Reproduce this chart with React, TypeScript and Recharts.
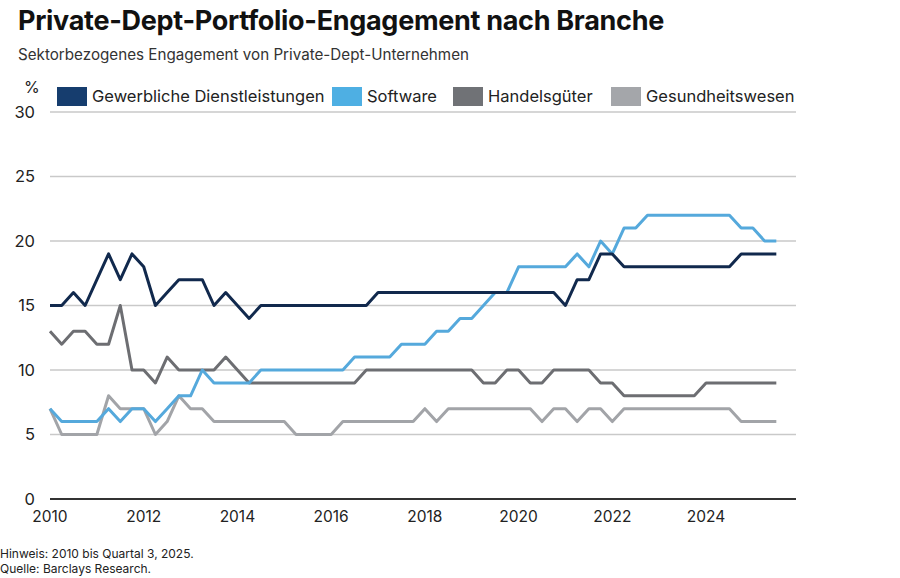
import React from "react";
import { LineChart, Line, XAxis, YAxis, CartesianGrid, ReferenceLine } from "recharts";

// quarterly, 2010 Q1 .. 2025 Q3
const START_YEAR = 2010;
const N_QUARTERS = 63;

const gewerbliche = [
  15, 15, 16, 15, 17, 19, 17, 19, 18, 15, 16, 17, 17, 17, 15, 16, 15, 14, 15, 15,
  15, 15, 15, 15, 15, 15, 15, 15, 16, 16, 16, 16, 16, 16, 16, 16, 16, 16, 16, 16,
  16, 16, 16, 16, 15, 17, 17, 19, 19, 18, 18, 18, 18, 18, 18, 18, 18, 18, 18, 19,
  19, 19, 19,
];
const software = [
  7, 6, 6, 6, 6, 7, 6, 7, 7, 6, 7, 8, 8, 10, 9, 9, 9, 9, 10, 10,
  10, 10, 10, 10, 10, 10, 11, 11, 11, 11, 12, 12, 12, 13, 13, 14, 14, 15, 16, 16,
  18, 18, 18, 18, 18, 19, 18, 20, 19, 21, 21, 22, 22, 22, 22, 22, 22, 22, 22, 21,
  21, 20, 20,
];
const handelsgueter = [
  13, 12, 13, 13, 12, 12, 15, 10, 10, 9, 11, 10, 10, 10, 10, 11, 10, 9, 9, 9,
  9, 9, 9, 9, 9, 9, 9, 10, 10, 10, 10, 10, 10, 10, 10, 10, 10, 9, 9, 10,
  10, 9, 9, 10, 10, 10, 10, 9, 9, 8, 8, 8, 8, 8, 8, 8, 9, 9, 9, 9,
  9, 9, 9,
];
const gesundheit = [
  7, 5, 5, 5, 5, 8, 7, 7, 7, 5, 6, 8, 7, 7, 6, 6, 6, 6, 6, 6,
  6, 5, 5, 5, 5, 6, 6, 6, 6, 6, 6, 6, 7, 6, 7, 7, 7, 7, 7, 7,
  7, 7, 6, 7, 7, 6, 7, 7, 6, 7, 7, 7, 7, 7, 7, 7, 7, 7, 7, 6,
  6, 6, 6,
];

const xTicks = [2010, 2012, 2014, 2016, 2018, 2020, 2022, 2024];
const yTicks = [0, 5, 10, 15, 20, 25, 30];

const series = [
  { key: "gewerbliche", name: "Gewerbliche Dienstleistungen", color: "#11294d", swatch: "#163d6e", legendX: 57 },
  { key: "software", name: "Software", color: "#55a9dc", swatch: "#4eafe3", legendX: 332 },
  { key: "handelsgueter", name: "Handelsgüter", color: "#6d6e72", swatch: "#707276", legendX: 453 },
  { key: "gesundheit", name: "Gesundheitswesen", color: "#a2a4a8", swatch: "#a4a6aa", legendX: 611 },
];

const data = Array.from({ length: N_QUARTERS }, (_, i) => ({
  t: START_YEAR + i / 4,
  gewerbliche: gewerbliche[i],
  software: software[i],
  handelsgueter: handelsgueter[i],
  gesundheit: gesundheit[i],
}));

const FONT = "Inter, Roboto, sans-serif";

export default function App() {
  return (
    <div
      style={{
        position: "absolute",
        left: 0,
        top: 0,
        width: 900,
        height: 578,
        background: "#fff",
        fontFamily: FONT,
        color: "#1a1a1a",
        overflow: "hidden",
      }}
    >
      <div style={{ position: "absolute", left: 18, top: 4, fontSize: 27, fontWeight: 700, letterSpacing: -0.3, color: "#111" }}>
        Private-Dept-Portfolio-Engagement nach Branche
      </div>
      <div style={{ position: "absolute", left: 18, top: 45, fontSize: 15.2, color: "#333" }}>
        Sektorbezogenes Engagement von Private-Dept-Unternehmen
      </div>
      <div style={{ position: "absolute", left: 24, top: 77, fontSize: 16, color: "#222" }}>%</div>

      {series.map((s) => (
        <div
          key={s.key}
          style={{ position: "absolute", left: s.legendX, top: 86, display: "flex", alignItems: "center", fontSize: 16.5, color: "#222", whiteSpace: "nowrap" }}
        >
          <div style={{ width: 30, height: 19, background: s.swatch, marginRight: 5 }} />
          <span>{s.name}</span>
        </div>
      ))}

      <div style={{ position: "absolute", left: 0, top: 0 }}>
        <LineChart width={900} height={578} data={data} margin={{ top: 112, right: 104, bottom: 49, left: 10 }}>
          <CartesianGrid vertical={false} stroke="#c9c9c9" strokeWidth={1.3} />
          <XAxis
            dataKey="t"
            type="number"
            domain={[2010, 2025.92]}
            ticks={xTicks}
            tickLine={false}
            axisLine={false}
            tickSize={0}
            tickMargin={12}
            height={30}
            tick={{ fontSize: 15.5, fill: "#222", fontFamily: FONT }}
          />
          <YAxis
            domain={[0, 30]}
            ticks={yTicks}
            tickLine={false}
            axisLine={false}
            tickSize={0}
            tickMargin={15}
            width={40}
            tick={{ fontSize: 16.5, fill: "#222", fontFamily: FONT }}
          />
          <ReferenceLine y={0} stroke="#333" strokeWidth={2} />
          {series
            .slice()
            .reverse()
            .map((s) => (
              <Line
                key={s.key}
                type="linear"
                dataKey={s.key}
                name={s.name}
                stroke={s.color}
                strokeWidth={3}
                strokeLinejoin="round"
                dot={false}
                isAnimationActive={false}
              />
            ))}
        </LineChart>
      </div>

      <div style={{ position: "absolute", left: 0, top: 546, fontSize: 12, lineHeight: "15px", color: "#222" }}>
        <div>Hinweis: 2010 bis Quartal 3, 2025.</div>
        <div>Quelle: Barclays Research.</div>
      </div>
    </div>
  );
}
